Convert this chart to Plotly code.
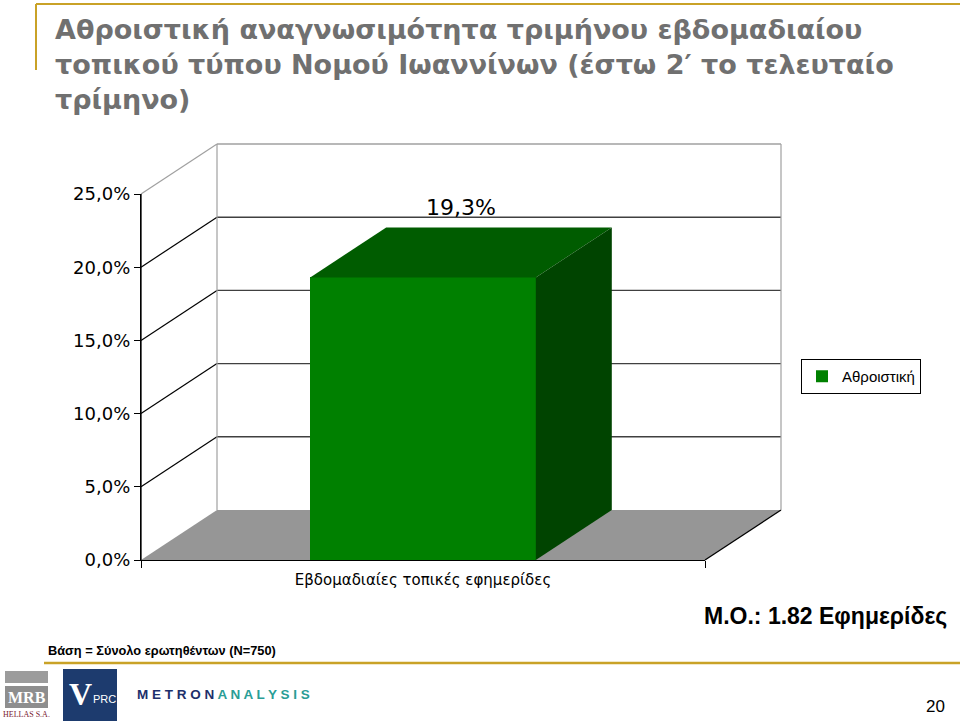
import plotly.graph_objects as go

# ---------------- data ----------------
categories = ["Εβδομαδιαίες τοπικές εφημερίδες"]
series_name = "Αθροιστική"
values = [19.3]
y_ticks = [0, 5, 10, 15, 20, 25]
y_max = 25

title_text = ("Αθροιστική αναγνωσιμότητα τριμήνου εβδομαδιαίου<br>"
              "τοπικού τύπου Νομού Ιωαννίνων (έστω 2′ το τελευταίο<br>"
              "τρίμηνο)")
mean_text = "Μ.Ο.: 1.82 Εφημερίδες"
base_text = "Βάση = Σύνολο ερωτηθέντων (N=750)"
page_no = "20"

# ---------------- geometry (pixels) ----------------
W, H = 960, 723
X_LEFT, X_RIGHT = 141, 705      # front plane, category span
Y_ZERO, Y_TOP = 560, 194        # front plane, 0% and max
DEPTH_PX = (76, -50)            # 3-D depth offset
BAR_W = 0.4                     # bar width in category units

px_per_x = (X_RIGHT - X_LEFT) / len(categories)
x_center = (X_LEFT + X_RIGHT) / 2
px_per_y = (Y_ZERO - Y_TOP) / y_max
x_range = [(0 - x_center) / px_per_x, (W - x_center) / px_per_x]
y_range = [(Y_ZERO - H) / px_per_y, (Y_ZERO - 0) / px_per_y]
DX = DEPTH_PX[0] / px_per_x
DY = -DEPTH_PX[1] / px_per_y
XL, XR = -0.5, len(categories) - 0.5

GOLD = "#c9a227"
FONT_V = "DejaVu Sans"
FONT_A = "Liberation Sans"


def px(x):
    return x / W


def py(y):
    return 1 - y / H


def fmt(v):
    return f"{v:.1f}".replace(".", ",") + "%"


fig = go.Figure()

# front faces of bars
fig.add_trace(go.Bar(
    x=list(range(len(categories))), y=values, width=BAR_W,
    marker=dict(color="#008000", line=dict(width=0)),
    name=series_name, showlegend=True, hoverinfo="skip",
))

# top and side faces
for i, v in enumerate(values):
    l, r = i - BAR_W / 2, i + BAR_W / 2
    fig.add_trace(go.Scatter(
        x=[l, l + DX, r + DX, r, l], y=[v, v + DY, v + DY, v, v],
        fill="toself", fillcolor="#005c00", mode="lines",
        line=dict(width=0, color="#005c00"), showlegend=False, hoverinfo="skip"))
    fig.add_trace(go.Scatter(
        x=[r, r + DX, r + DX, r, r], y=[0, DY, v + DY, v, 0],
        fill="toself", fillcolor="#004400", mode="lines",
        line=dict(width=0, color="#004400"), showlegend=False, hoverinfo="skip"))

# value labels
LABEL_GAP = 2.9
fig.add_trace(go.Scatter(
    x=[i + DX / 2 for i in range(len(values))],
    y=[v + DY / 2 + LABEL_GAP for v in values],
    text=[fmt(v) for v in values], mode="text", textposition="middle center",
    textfont=dict(family=FONT_V, size=22, color="black"),
    showlegend=False, hoverinfo="skip", cliponaxis=False))

# empty trace for the axis subplot
fig.add_trace(go.Scatter(x=[0], y=[0], xaxis="x2", yaxis="y2", mode="markers",
                         marker=dict(size=0.1, opacity=0),
                         showlegend=False, hoverinfo="skip"))

shapes = []
# floor
shapes.append(dict(type="path", xref="x", yref="y", layer="below",
                   path=f"M {XL},0 L {XL + DX},{DY} L {XR + DX},{DY} L {XR},0 Z",
                   fillcolor="#969696", line=dict(width=0)))
shapes.append(dict(type="line", xref="x", yref="y", layer="below",
                   x0=XR, y0=0, x1=XR + DX, y1=DY, line=dict(color="black", width=1.3)))
# walls and gridlines
for t in y_ticks:
    if t == 0:
        continue
    col_d = "#a0a0a0" if t == y_max else "black"
    col_b = "#a0a0a0" if t == y_max else "#404040"
    shapes.append(dict(type="line", xref="x", yref="y", layer="below",
                       x0=XL, y0=t, x1=XL + DX, y1=t + DY, line=dict(color=col_d, width=1.2)))
    shapes.append(dict(type="line", xref="x", yref="y", layer="below",
                       x0=XL + DX, y0=t + DY, x1=XR + DX, y1=t + DY,
                       line=dict(color=col_b, width=1.4)))
for xe in (XL + DX, XR + DX):
    shapes.append(dict(type="line", xref="x", yref="y", layer="below",
                       x0=xe, y0=DY, x1=xe, y1=y_max + DY, line=dict(color="#a0a0a0", width=1.2)))
# front value axis line
shapes.append(dict(type="line", xref="x", yref="y", layer="above",
                   x0=XL, y0=0, x1=XL, y1=y_max, line=dict(color="black", width=1.3)))

# decorative gold lines
shapes += [
    dict(type="line", xref="paper", yref="paper", x0=px(36), y0=py(4), x1=px(960), y1=py(4),
         line=dict(color=GOLD, width=2)),
    dict(type="line", xref="paper", yref="paper", x0=px(36), y0=py(4), x1=px(36), y1=py(70),
         line=dict(color=GOLD, width=2)),
    dict(type="line", xref="paper", yref="paper", x0=px(44), y0=py(663), x1=px(960), y1=py(663),
         line=dict(color=GOLD, width=2.5)),
]
# logos boxes
shapes += [
    dict(type="rect", xref="paper", yref="paper", x0=px(5), x1=px(48), y0=py(671), y1=py(683),
         fillcolor="#9c9c9c", line=dict(width=0)),
    dict(type="rect", xref="paper", yref="paper", x0=px(5), x1=px(48), y0=py(686), y1=py(708),
         fillcolor="#8e8e8e", line=dict(width=0)),
    dict(type="rect", xref="paper", yref="paper", x0=px(63), x1=px(117), y0=py(669), y1=py(721),
         fillcolor="#1d3b6e", line=dict(width=0)),
]

annotations = [
    dict(text=title_text, xref="paper", yref="paper", x=px(53), y=py(12),
         xanchor="left", yanchor="top", align="left", showarrow=False,
         font=dict(family=FONT_V, size=27, color="#707070", weight="bold")),
    dict(text=f"<b>{mean_text}</b>", xref="paper", yref="paper", x=px(949), y=py(616),
         xanchor="right", yanchor="middle", showarrow=False,
         font=dict(family=FONT_A, size=23, color="black")),
    dict(text=f"<b>{base_text}</b>", xref="paper", yref="paper", x=px(46), y=py(650),
         xanchor="left", yanchor="middle", showarrow=False,
         font=dict(family=FONT_A, size=12.8, color="black")),
    dict(text=page_no, xref="paper", yref="paper", x=px(935), y=py(706),
         xanchor="center", yanchor="middle", showarrow=False,
         font=dict(family=FONT_A, size=17, color="black")),
    dict(text="<b>MRB</b>", xref="paper", yref="paper", x=px(26.5), y=py(697),
         xanchor="center", yanchor="middle", showarrow=False,
         font=dict(family="Liberation Serif", size=16, color="white")),
    dict(text="HELLAS S.A.", xref="paper", yref="paper", x=px(26.5), y=py(714),
         xanchor="center", yanchor="middle", showarrow=False,
         font=dict(family="Liberation Serif", size=8, color="#7a2030")),
    dict(text="<b>V</b>", xref="paper", yref="paper", x=px(80), y=py(694),
         xanchor="center", yanchor="middle", showarrow=False,
         font=dict(family="Liberation Serif", size=32, color="white")),
    dict(text="PRC", xref="paper", yref="paper", x=px(104), y=py(699),
         xanchor="center", yanchor="middle", showarrow=False,
         font=dict(family=FONT_A, size=11, color="white")),
    dict(text="<b><span style='color:#1d2f6b'>M E T R O N</span> "
              "<span style='color:#2a9d96'>A N A L Y S I S</span></b>",
         xref="paper", yref="paper", x=px(223), y=py(694),
         xanchor="center", yanchor="middle", showarrow=False,
         font=dict(family=FONT_A, size=13.5, color="#1d2f6b")),
]

fig.update_layout(
    template="none",
    width=W, height=H, autosize=False, margin=dict(l=0, r=0, t=0, b=0, pad=0),
    paper_bgcolor="white", plot_bgcolor="rgba(0,0,0,0)",
    font=dict(family=FONT_A, color="black"),
    separators=",.", bargap=0,
    xaxis=dict(domain=[0, 1], range=x_range, visible=False, fixedrange=True,
               automargin=False),
    yaxis=dict(domain=[0, 1], range=y_range, visible=False, fixedrange=True,
               automargin=False),
    xaxis2=dict(domain=[px(X_LEFT), px(X_RIGHT)], range=[XL, XR], anchor="y2",
                automargin=False,
                showline=True, linecolor="black", linewidth=1.3,
                showgrid=False, zeroline=False,
                tickvals=list(range(len(categories))), ticktext=categories, ticks="",
                ticklabelstandoff=6,
                minor=dict(tickvals=[XL, XR], ticks="outside", ticklen=7,
                           tickcolor="black", tickwidth=1.3, showgrid=False),
                tickfont=dict(family=FONT_V, size=15, color="black"), fixedrange=True),
    yaxis2=dict(domain=[1 - Y_ZERO / H, 1 - Y_TOP / H], range=[0, y_max], anchor="x2",
                automargin=False,
                showline=True, linecolor="black", linewidth=1.3,
                showgrid=False, zeroline=False,
                tickvals=y_ticks, ticktext=[fmt(t) for t in y_ticks],
                ticks="outside", ticklen=6, tickcolor="black", tickwidth=1.3,
                tickfont=dict(family=FONT_V, size=18, color="black"), fixedrange=True),
    legend=dict(x=px(801), y=py(359), xanchor="left", yanchor="top",
                bgcolor="white", bordercolor="black", borderwidth=1,
                font=dict(family=FONT_A, size=15, color="black"),
                itemwidth=30, tracegroupgap=0),
    shapes=shapes, annotations=annotations,
)

fig.write_html("out.html")
